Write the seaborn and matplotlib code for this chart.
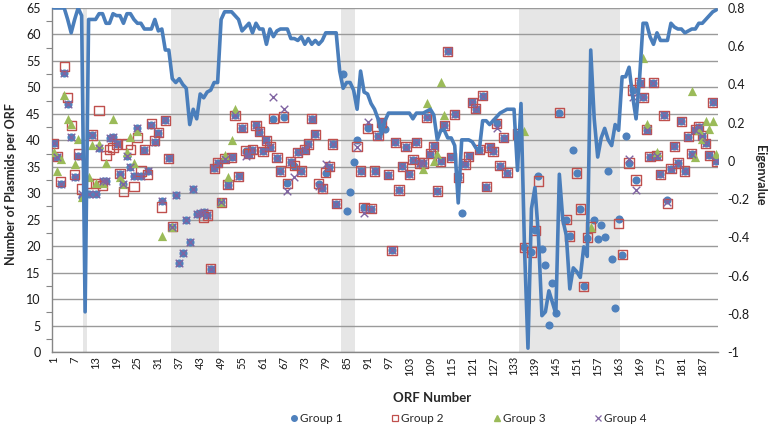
import numpy as np
import pandas as pd
import matplotlib
matplotlib.use('Agg')
import matplotlib.pyplot as plt
from matplotlib.lines import Line2D
from matplotlib.ticker import MultipleLocator, FixedLocator
import seaborn as sns

nan = np.nan
orf = list(range(1, 192))

group1 = [39.4, 36.9, 31.8, 52.8, 46.8, 40.7, 33.1, 37.0, 29.2, 30.0,
          29.9, 41.0, 29.9, 38.5, 32.3, 32.3, 40.5, 40.6, 39.3, 33.7,
          31.8, 37.0, 35.0, 33.3, 42.3, 33.3, 38.2, 34.2, 42.8, 39.7,
          41.4, 28.5, 43.8, 36.6, 23.7, 29.7, 16.9, 18.7, 25.0, 20.7,
          30.8, 26.1, 26.2, 26.4, 25.9, 15.7, 34.7, 35.8, 28.3, 36.5,
          31.6, 36.8, 44.7, 33.2, 42.4, 38.0, 37.5, 38.2, 42.8, 41.6,
          37.9, 40.0, 38.8, 44.1, 36.7, 34.2, 44.4, 31.9, 35.9, 35.2,
          37.7, 34.2, 38.2, 39.3, 44.1, 41.1, 31.8, 30.9, 33.9, 35.0,
          39.3, 28.0, nan, 52.5, 26.7, 30.3, 35.9, 40.0, 34.2, 27.3,
          42.3, 27.1, 34.2, 40.9, 43.4, 42.2, 33.5, 19.2, 39.6, 30.6,
          35.1, 38.8, 33.6, 36.3, 39.6, 35.7, 35.7, 44.4, 37.5, 38.9,
          30.4, 36.0, 42.8, 56.8, 36.8, 44.9, 33.0, 26.2, 35.5, 37.0,
          47.2, 46.0, 38.2, 48.4, 31.2, 38.7, 37.9, 43.2, 35.2, 40.5,
          33.9, nan, nan, 41.2, nan, 19.8, nan, 18.9, 23.0, 33.3,
          19.5, 16.5, 5.1, 13.1, 7.3, 45.2, nan, 25.0, 21.9, 38.2,
          33.8, 27.0, 12.4, 21.6, nan, 24.9, 21.4, 24.0, 21.8, 34.2,
          17.6, 8.4, 25.2, 18.4, 40.9, 35.7, 49.5, 32.5, 50.9, 48.1,
          42.0, 36.9, 50.9, 37.1, 33.6, 44.7, 28.8, 34.6, 38.9, 35.7,
          43.6, 34.2, 40.7, 37.5, 42.0, 42.6, 40.9, 39.4, 37.2, 47.2,
          36.0]

group2 = [39.4, 36.9, 32.2, 54.0, 48.1, 42.8, 33.6, 37.4, 30.8, nan,
          31.8, 41.0, 31.8, 45.7, 31.4, 37.1, 38.2, 38.7, 39.3, 33.7,
          30.3, 39.3, 38.2, 31.3, 40.6, 34.2, 38.2, 33.6, 43.1, 40.0,
          41.4, 27.4, 43.8, 36.6, 23.7, nan, nan, nan, nan, nan,
          nan, nan, nan, 25.5, 25.9, 15.7, 34.7, 35.8, 28.3, 36.5,
          31.6, 36.8, 44.7, 33.2, 42.4, 38.0, 37.5, 38.2, 42.8, 41.6,
          37.9, 40.0, 38.8, 44.1, 36.7, 34.2, 44.4, 31.9, 35.9, 35.2,
          37.7, 34.2, 38.2, 39.3, 44.1, 41.1, 31.8, 30.9, 33.9, 35.0,
          39.3, 28.0, nan, nan, nan, nan, nan, 38.8, 34.2, 27.3,
          42.3, 27.1, 34.2, 40.9, 43.4, nan, 33.5, 19.2, 39.6, 30.6,
          35.1, 38.8, 33.6, 36.3, 39.6, 35.7, 35.7, 44.4, 37.5, 38.9,
          30.4, 36.0, 42.8, 56.8, 36.8, 44.9, 33.0, nan, 35.5, 37.0,
          47.2, 46.0, 38.2, 48.4, 31.2, 38.7, 37.9, 43.2, 35.2, 40.5,
          33.9, nan, nan, 41.2, nan, 19.8, nan, 18.9, 23.0, 32.3,
          nan, nan, nan, nan, nan, 45.2, nan, 25.0, 21.9, nan,
          33.8, 27.0, 12.4, 21.6, 23.6, nan, nan, nan, nan, nan,
          nan, nan, 24.3, 18.4, nan, 35.7, 49.5, 32.5, 50.9, 48.1,
          42.0, 36.9, 50.9, 37.1, 33.6, 44.7, 28.0, 34.6, 38.9, 35.7,
          43.6, 34.2, 40.7, 37.5, 42.0, 42.6, 40.9, 39.4, 37.2, 47.2,
          36.0]

group3 = [37.7, 34.2, 36.5, 48.6, 44.1, 43.0, 35.5, 40.3, 29.2, nan,
          33.1, 39.2, 32.0, 39.3, 32.0, 35.8, nan, 44.1, nan, 33.0,
          31.8, 37.7, 40.7, 35.7, 41.7, nan, nan, nan, nan, nan,
          nan, 22.0, nan, nan, 23.7, nan, nan, nan, nan, nan,
          nan, nan, nan, nan, nan, nan, nan, nan, 28.3, 37.2,
          33.0, 40.0, 46.0, nan, nan, nan, nan, nan, nan, nan,
          nan, nan, nan, nan, nan, nan, nan, nan, nan, nan,
          nan, nan, nan, nan, nan, nan, nan, nan, nan, nan,
          nan, nan, nan, nan, nan, nan, nan, nan, nan, nan,
          nan, nan, nan, nan, nan, nan, nan, nan, nan, nan,
          nan, nan, nan, nan, nan, nan, 34.6, 47.0, nan, 36.1,
          37.4, 51.0, 44.7, nan, nan, nan, nan, nan, nan, nan,
          nan, nan, nan, nan, nan, nan, nan, nan, nan, nan,
          nan, nan, nan, nan, nan, 41.7, nan, nan, nan, nan,
          nan, nan, nan, nan, nan, nan, nan, nan, nan, nan,
          nan, nan, nan, nan, 23.6, nan, nan, nan, nan, nan,
          nan, nan, nan, nan, nan, nan, nan, nan, nan, 55.5,
          43.1, nan, nan, 37.7, nan, nan, nan, nan, nan, nan,
          nan, nan, nan, 49.3, 36.8, 41.9, 40.3, 43.6, 42.2, 43.6,
          37.4]

group4 = [39.4, 36.9, 31.8, 52.8, 46.8, 40.7, 33.1, 37.0, 29.8, nan,
          29.9, 41.0, 29.9, 38.5, 32.3, 32.3, 40.5, 40.6, 39.3, 33.7,
          31.8, 37.0, 35.0, 33.3, 42.3, 33.3, 38.2, 34.2, 42.8, 39.7,
          41.4, 28.5, 43.8, 36.6, 23.7, 29.7, 16.9, 18.7, 25.0, 20.7,
          30.8, 26.1, 26.2, 26.4, 25.9, 15.7, 34.7, 35.8, 28.3, 36.5,
          31.6, 36.8, 44.7, 33.2, 42.4, 37.1, 37.5, 38.2, 42.8, 41.6,
          37.9, 40.0, 38.8, 48.1, 36.7, 34.2, 45.9, 30.4, 35.9, 33.0,
          37.7, 34.2, 38.2, 39.3, 44.1, 41.1, 31.4, 30.9, 35.5, 35.0,
          39.3, 28.0, nan, nan, nan, nan, nan, 38.8, 34.2, 26.3,
          43.5, 27.1, 34.2, 40.9, 43.6, nan, 33.5, 19.2, 39.6, 30.6,
          35.1, 38.8, 33.6, 36.3, 39.6, 35.7, 35.7, 44.4, 37.5, 38.9,
          30.4, 36.0, 42.8, 56.8, 36.8, 44.9, 33.0, nan, 35.5, 37.0,
          47.2, 46.0, 38.2, 48.4, 31.2, 38.7, 37.9, 42.3, 35.2, 40.5,
          33.9, nan, nan, 41.2, nan, nan, nan, nan, nan, nan,
          nan, nan, nan, nan, nan, nan, nan, nan, nan, nan,
          nan, nan, nan, nan, nan, nan, nan, nan, nan, nan,
          nan, nan, nan, nan, nan, 36.5, 48.2, 30.6, 50.9, 48.1,
          42.0, 36.9, 50.9, 37.1, 33.6, 44.7, 28.3, 34.6, 38.9, 35.7,
          43.6, 34.2, 40.7, 37.5, 42.0, 42.6, 40.9, 39.4, 37.2, 47.2,
          36.0]

eigenvalue = [0.80, 0.80, 0.80, 0.80, 0.74, 0.67, 0.74, 0.80, 0.76, -0.79,
              0.74, 0.74, 0.74, 0.77, 0.77, 0.72, 0.72, 0.77, 0.76, 0.76,
              0.72, 0.77, 0.77, 0.74, 0.72, 0.72, 0.69, 0.69, 0.69, 0.74,
              0.68, 0.69, 0.58, 0.58, 0.43, 0.41, 0.43, 0.40, 0.38, 0.19,
              0.27, 0.22, 0.35, 0.33, 0.36, 0.37, 0.41, 0.41, 0.74, 0.78,
              0.78, 0.78, 0.76, 0.74, 0.68, 0.70, 0.72, 0.67, 0.72, 0.69,
              0.69, 0.61, 0.69, 0.65, 0.68, 0.69, 0.69, 0.69, 0.64, 0.64,
              0.63, 0.65, 0.61, 0.64, 0.61, 0.63, 0.61, 0.63, 0.67, 0.67,
              0.67, 0.67, 0.47, 0.38, 0.41, 0.41, 0.37, 0.27, 0.47, 0.36,
              0.35, 0.30, 0.27, 0.22, 0.14, 0.21, 0.25, 0.25, 0.25, 0.25,
              0.25, 0.25, 0.25, 0.22, 0.25, 0.25, 0.25, 0.26, 0.27, 0.24,
              0.11, 0.16, 0.16, 0.12, 0.12, 0.08, -0.22, 0.11, 0.11, 0.11,
              0.10, 0.07, 0.05, 0.21, 0.21, 0.19, 0.21, 0.23, 0.25, 0.26,
              0.27, 0.27, 0.27, -0.05, 0.30, -0.45, -0.98, -0.25, -0.14, -0.39,
              -0.81, -0.79, -0.68, -0.74, -0.80, -0.07, -0.31, -0.39, -0.67, -0.56,
              -0.58, -0.61, -0.45, -0.50, 0.58, 0.22, 0.02, 0.12, 0.17, 0.11,
              0.08, 0.19, 0.16, 0.44, 0.44, 0.49, 0.34, 0.22, 0.43, 0.72,
              0.72, 0.65, 0.61, 0.67, 0.63, 0.63, 0.63, 0.72, 0.70, 0.69,
              0.69, 0.67, 0.68, 0.69, 0.69, 0.72, 0.72, 0.74, 0.76, 0.78,
              0.79]

# highlighted ORF ranges (first, last)
shaded = [(10, 10), (35, 48), (84, 87), (135, 163)]
tick_orfs = list(range(1, 188, 6))

df = pd.DataFrame({'orf': orf, 'Group 1': group1, 'Group 2': group2,
                   'Group 3': group3, 'Group 4': group4, 'eigen': eigenvalue})

sns.set_style('white')
plt.rcParams['font.family'] = ['Lato', 'DejaVu Sans']

blue = '#4f81bd'
red = '#c0504d'
green = '#9bbb59'
purple = '#8064a2'
grey = '#868686'

fig = plt.figure(figsize=(7.68, 4.34), dpi=100)
ax = fig.add_axes([0.0677, 0.189, 0.8672, 0.7926])

for a, b in shaded:
    ax.axvspan(a - 0.5, b + 0.5, color='#e6e6e6', lw=0, zorder=0)

sns.scatterplot(data=df, x='orf', y='Group 1', ax=ax, marker='o', s=34,
                color=blue, linewidth=0, zorder=3)
sns.scatterplot(data=df, x='orf', y='Group 2', ax=ax, marker='s', s=44,
                facecolor='none', edgecolor=red, linewidth=1.0, zorder=3)
sns.scatterplot(data=df, x='orf', y='Group 3', ax=ax, marker='^', s=44,
                color=green, linewidth=0, zorder=3)
sns.scatterplot(data=df, x='orf', y='Group 4', ax=ax, marker='x', s=30,
                color=purple, linewidth=1.0, zorder=3)

ax.set_xlim(0.5, 191.5)
ax.set_ylim(0, 65)
ax.yaxis.set_major_locator(MultipleLocator(5))
ax.yaxis.set_minor_locator(FixedLocator(np.arange(2.5, 65, 5)))
ax.set_axisbelow(True)
ax.yaxis.grid(True, color='#9a9a9a', linewidth=1.0)
ax.xaxis.grid(False)
ax.set_xticks(tick_orfs)
ax.set_xticklabels([str(t) for t in tick_orfs], rotation=90, fontsize=8)
ax.tick_params(axis='x', length=0, pad=3, colors='#1a1a1a')
ax.tick_params(axis='y', which='major', length=0, pad=8, labelsize=9, colors='#1a1a1a')
ax.tick_params(axis='y', which='minor', length=4, width=0.8, color=grey, direction='out')
for s in ['top', 'right']:
    ax.spines[s].set_visible(False)
for s in ['left', 'bottom']:
    ax.spines[s].set_color(grey)
    ax.spines[s].set_linewidth(1.0)
ax.set_xlabel('')
ax.set_ylabel('')

ax2 = ax.twinx()
sns.lineplot(data=df, x='orf', y='eigen', ax=ax2, color='#4a7ebb',
             linewidth=2.6, estimator=None)
ax2.set_ylim(-1, 0.8)
yt = np.round(np.arange(-1, 0.81, 0.2), 1)
ax2.set_yticks(yt)
ax2.set_yticklabels([f'{v:g}' if v != 0 else '0' for v in yt])
ax2.tick_params(axis='y', length=0, pad=7, labelsize=9, colors='#1a1a1a')
for s in ax2.spines.values():
    s.set_visible(False)
ax2.set_xlim(0.5, 191.5)
ax2.set_ylabel('')
ax2.set_xlabel('')

fig.text(0.014, 0.575, 'Number of Plasmids per ORF', rotation=90, ha='center',
         va='center', fontsize=9, fontweight='bold')
fig.text(0.99, 0.597, 'Eigenvalue', rotation=270, ha='center', va='center',
         fontsize=9, fontweight='bold')
fig.text(0.563, 0.083, 'ORF Number', ha='center', va='center',
         fontsize=9.5, fontweight='bold')

handles = [
    Line2D([0], [0], linestyle='None', linewidth=0, marker='o', ms=4, mfc=blue, mec=blue),
    Line2D([0], [0], linestyle='None', linewidth=0, marker='s', ms=5, mfc='none', mec=red, mew=0.9),
    Line2D([0], [0], linestyle='None', linewidth=0, marker='^', ms=5, mfc=green, mec=green),
    Line2D([0], [0], linestyle='None', linewidth=0, marker='x', ms=4.5, mec=purple, mew=0.9),
]
fig.legend(handles, ['Group 1', 'Group 2', 'Group 3', 'Group 4'],
           loc='center', bbox_to_anchor=(0.61, 0.036), ncol=4, frameon=False,
           fontsize=8.5, columnspacing=4.2, handletextpad=0.2, handlelength=0.6,
           numpoints=1)

fig.savefig('out.png', dpi=100)
